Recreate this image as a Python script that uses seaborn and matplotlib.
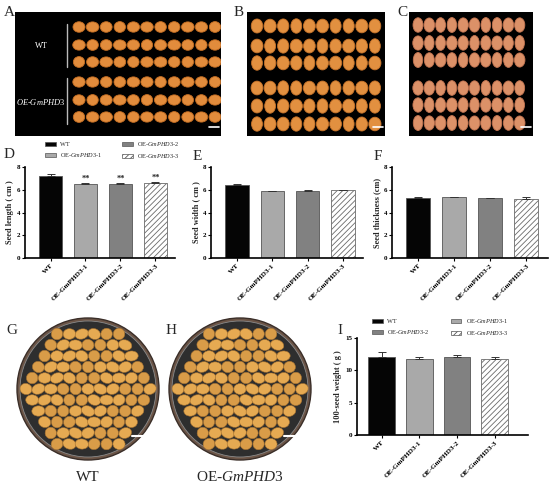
import numpy as np
import pandas as pd
import matplotlib
matplotlib.use("Agg")
import matplotlib.pyplot as plt
from matplotlib.patches import Ellipse, Circle, Patch, Rectangle
import seaborn as sns

# ---------------- data ----------------
lines = ["WT", "OE-GmPHD3-1", "OE-GmPHD3-2", "OE-GmPHD3-3"]
seed_length = [7.22, 6.47, 6.50, 6.57]
seed_length_err = [0.15, 0.10, 0.08, 0.10]
seed_length_sig = ["", "**", "**", "**"]
seed_width = [6.40, 5.86, 5.92, 5.97]
seed_width_err = [0.07, 0.03, 0.04, 0.05]
seed_thickness = [5.30, 5.35, 5.25, 5.22]
seed_thickness_err = [0.05, 0.05, 0.04, 0.10]
weight100 = [12.1, 11.75, 12.1, 11.7]
weight100_err = [0.8, 0.3, 0.3, 0.4]
legend_labels = ["WT", "OE-$\\it{GmPHD3}$-1", "OE-$\\it{GmPHD3}$-2", "OE-$\\it{GmPHD3}$-3"]

bar_colors = ["#050505", "#a9a9a9", "#818181", "#ffffff"]

sns.set_theme(style="white")
plt.rcParams["font.family"] = ["Liberation Serif", "DejaVu Serif"]
plt.rcParams["mathtext.fontset"] = "custom"
plt.rcParams["mathtext.rm"] = "Liberation Serif"
plt.rcParams["mathtext.it"] = "Liberation Serif:italic"
plt.rcParams["mathtext.bf"] = "Liberation Serif:bold"
plt.rcParams["hatch.color"] = "#6a6a6a"
plt.rcParams["hatch.linewidth"] = 0.6

W, H = 550, 486
fig = plt.figure(figsize=(W / 100, H / 100), dpi=100)
fig.patch.set_facecolor("white")


def rect(x0, y0, x1, y1):
    return [x0 / W, 1 - y1 / H, (x1 - x0) / W, (y1 - y0) / H]


def label(x, y, s):
    fig.text(x / W, 1 - y / H, s, fontsize=11, ha="left", va="center")


# ---------------- photo panels (drawn) ----------------
def seed_panel(box, cols_x, rows_y, sw, sh, color, edge):
    ax = fig.add_axes(rect(*box))
    w = box[2] - box[0]
    h = box[3] - box[1]
    ax.set_xlim(0, w)
    ax.set_ylim(h, 0)
    ax.set_facecolor("black")
    ax.set_xticks([]); ax.set_yticks([])
    for s in ax.spines.values():
        s.set_visible(False)
    ax.add_patch(Rectangle((0, 0), w, h, color="black", zorder=0))
    for j, y in enumerate(rows_y):
        for i, x in enumerate(cols_x):
            k = 0.06 * np.sin(1.7 * i + 2.3 * j)
            ax.add_patch(Ellipse((x, y), sw * (1 + k), sh * (1 - k * 0.5),
                                 facecolor=color, edgecolor=edge, lw=0.6, zorder=2))
    # scale bar
    ax.plot([w - 12, w - 2], [h - 9, h - 9], color="white", lw=1.2, zorder=3)
    return ax


axA = seed_panel((15, 12, 221, 136), np.arange(11) * 13.6 + 64,
                 [15, 33, 50, 70, 88, 105], 12.0, 10.5, "#e28c3c", "#c46d22")
axA.plot([52, 52], [12, 55], color="#bbbbbb", lw=1)
axA.plot([52, 52], [66, 112], color="#bbbbbb", lw=1)
axA.text(26, 34, "WT", color="white", fontsize=6, ha="center", va="center")
axA.text(26, 90, "OE-$\\it{GmPHD3}$", color="white", fontsize=6, ha="center",
         va="center", style="italic")

seed_panel((247, 12, 385, 136), np.arange(10) * 13.1 + 10,
           [14, 34, 51, 76, 94, 112], 11.5, 14, "#e29040", "#c7732a")
seed_panel((409, 12, 533, 136), np.arange(10) * 11.3 + 9,
           [13, 31, 48, 76, 93, 111], 10, 14.5, "#dc9168", "#c47552")

label(4, 12, "A")
label(234, 12, "B")
label(397, 12, "C")


def tray(cx, cy, r, caption):
    ax = fig.add_axes(rect(cx - r - 2, cy - r - 2, cx + r + 2, cy + r + 2))
    ax.set_xlim(-r - 2, r + 2)
    ax.set_ylim(r + 2, -r - 2)
    ax.axis("off")
    ax.add_patch(Circle((0, 0), r, facecolor="#6b5446", edgecolor="#3a2e28", lw=1))
    ax.add_patch(Circle((0, 0), r - 3, facecolor="#2e2e2e", edgecolor="#8a8a8a", lw=0.6))
    dx, dy = 12.4, 11.0
    rows = np.arange(-7, 8)
    for j in rows:
        y = j * dy
        off = (j % 2) * dx / 2
        for i in np.arange(-7, 8):
            x = i * dx + off
            if np.hypot(x, y) < r - 6.5:
                k = np.sin(1.3 * i + 0.7 * j)
                c = "#e6aa52" if k > -0.3 else "#d99c48"
                ax.add_patch(Ellipse((x, y), 12.4 + 1.2 * k, 10.8 - 0.8 * k,
                                     angle=25 * np.sin(2.1 * i + j),
                                     facecolor=c, edgecolor="#a87330", lw=0.4))
    ax.plot([r * 0.62, r * 0.78], [r * 0.66, r * 0.66], color="white", lw=1.5)
    fig.text(cx / W, 1 - 477 / H, caption, fontsize=11, ha="center", va="center")


tray(88, 389, 71, "WT")
tray(240, 389, 71, "OE-$\\it{GmPHD3}$")
label(6, 330, "G")
label(166, 330, "H")


# ---------------- bar charts ----------------
def bar_panel(box, values, errs, ylabel, ymax, yticks, xlim, width, sig=None):
    ax = fig.add_axes(rect(*box))
    df = pd.DataFrame({"line": lines, "value": values})
    sns.barplot(data=df, x="line", y="value", hue="line", palette=bar_colors,
                width=width, edgecolor="#555555", linewidth=0.6, ax=ax,
                legend=False, order=lines, hue_order=lines)
    for i, p in enumerate(ax.patches):
        if i == 3:
            p.set_hatch("//////")
            p.set_edgecolor("#6a6a6a")
    ax.errorbar(np.arange(len(lines)), values, yerr=[np.zeros(4), errs],
                fmt="none", ecolor="#333333", elinewidth=0.7, capsize=3, capthick=0.7)
    if sig:
        for i, s in enumerate(sig):
            if s:
                ax.text(i, values[i] + errs[i] + ymax * 0.005, s, ha="center",
                        va="bottom", fontsize=6, fontweight="bold")
    ax.set_xlim(*xlim)
    ax.set_ylim(0, ymax)
    ax.set_yticks(yticks)
    ax.set_xlabel("")
    ax.set_ylabel(ylabel, fontsize=6, fontweight="bold", labelpad=2)
    sns.despine(ax=ax)
    for s in ["left", "bottom"]:
        ax.spines[s].set_linewidth(1.2)
        ax.spines[s].set_color("black")
    ax.tick_params(axis="both", direction="out", length=2.5, width=0.8,
                   labelsize=5, pad=1, colors="black", bottom=True, left=True)
    ax.set_xticks(range(4))
    ax.set_xticklabels(lines, rotation=45, ha="right", rotation_mode="anchor",
                       fontweight="bold", fontsize=5.2)
    for t in ax.get_yticklabels():
        t.set_fontweight("bold")
    return ax


bar_panel((25, 167, 175, 258), seed_length, seed_length_err, "Seed length ( cm )",
          8, [0, 2, 4, 6, 8], (-0.73, 3.56), 0.66, seed_length_sig)
bar_panel((211, 167, 363, 258), seed_width, seed_width_err, "Seed width ( cm )",
          8, [0, 2, 4, 6, 8], (-0.73, 3.56), 0.66)
bar_panel((392, 167, 548, 258), seed_thickness, seed_thickness_err, "Seed thickness (cm)",
          8, [0, 2, 4, 6, 8], (-0.73, 3.6), 0.66)
bar_panel((357, 338, 528, 435), weight100, weight100_err, "100-seed weight ( g )",
          15, [0, 5, 10, 15], (-0.65, 3.88), 0.71)

label(4, 154, "D")
label(193, 156, "E")
label(374, 156, "F")
label(337, 330, "I")

handles = [Patch(facecolor=c, edgecolor="#555555", lw=0.5,
                 hatch=("//////" if i == 3 else None)) for i, c in enumerate(bar_colors)]

leg_kw = dict(ncol=2, loc="center left", frameon=False, fontsize=4.5,
              handlelength=1.7, handleheight=0.6, labelspacing=0.7,
              borderpad=0, handletextpad=0.7)
fig.legend([handles[i] for i in [0, 1, 2, 3]], [legend_labels[i] for i in [0, 1, 2, 3]],
           bbox_to_anchor=(42 / W, 1 - 150 / H), columnspacing=3.2, **leg_kw)
fig.legend([handles[i] for i in [0, 2, 1, 3]], [legend_labels[i] for i in [0, 2, 1, 3]],
           bbox_to_anchor=(369 / W, 1 - 327 / H), columnspacing=3.4, **leg_kw)

fig.savefig("out.png", dpi=100, facecolor="white")
